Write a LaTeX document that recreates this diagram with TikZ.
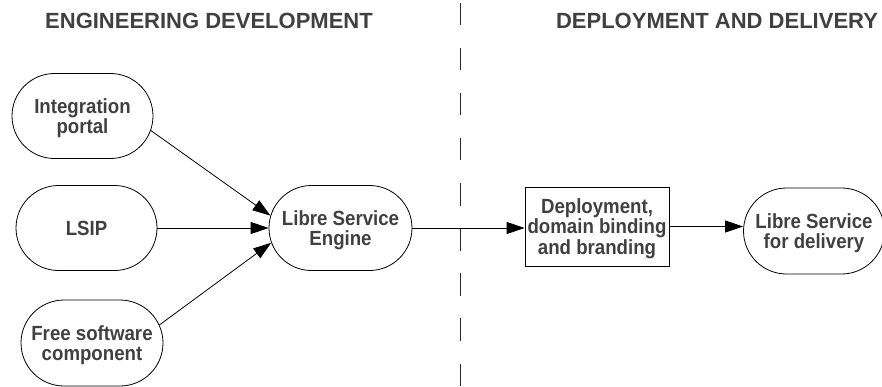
\documentclass[tikz,border=0pt]{standalone}
\usepackage{fontspec}
\setmainfont{Liberation Sans}
\newfontfamily\nodefont{Liberation Sans}[FakeStretch=0.91]
\usepackage{tikz}
\usetikzlibrary{positioning}
\usetikzlibrary{arrows.meta}
\usetikzlibrary{shapes.misc}
\definecolor{inkgray}{RGB}{64,64,64}
\tikzset{
  every node/.style={font=\nodefont\bfseries\fontsize{20.5}{20.7}\selectfont, text=inkgray, align=center, text depth=0pt},
  pill/.style={draw=black, line width=0.8pt, rounded rectangle, minimum width=141pt, minimum height=85pt, inner sep=0pt},
  plainbox/.style={draw=black, line width=0.8pt, rectangle, minimum width=144pt, minimum height=79pt, inner sep=0pt},
  heading/.style={font=\bfseries\fontsize{22}{26}\selectfont},
  flow/.style={-{Triangle[length=18pt,width=12pt]}, line width=0.8pt},
  divider/.style={draw=black!85, line width=0.9pt, dash pattern=on 22.4pt off 22.7pt},
}

\begin{document}
\begin{tikzpicture}[x=1pt,y=-1pt]
	%% page size of the drawing
	\useasboundingbox (0,0) rectangle (882,386);

	% column headings
	\node[heading] (engtitle) at (209,20.5) {ENGINEERING DEVELOPMENT};
	\node[heading] (deltitle) at (717,20.5) {DEPLOYMENT AND DELIVERY};

	% separator between the two columns
	\coordinate (divtop) at (460,2.7);
	\coordinate (divbot) at (460,386);
	\draw[divider] (divtop) -- (divbot);

	% sources
	\node[pill] (intport) at (82.5,116) {Integration\\portal};
	\node[pill] (lsip) at (86.5,228) {LSIP};
	\node[pill, minimum width=142pt, minimum height=86pt] (freesw) at (92,343) {Free software\\component};

	% engine, deployment, delivery
	\node[pill, minimum width=143pt] (engine) at (340.5,228) {Libre Service\\Engine};
	\node[plainbox] (deploy) at (597,226.5) {Deployment,\\domain binding\\and branding};
	\node[pill, minimum height=86pt] (delivery) at (814,231) {Libre Service\\for delivery};

	\draw[flow] (intport.-12) -- (engine.170);
	\draw[flow] (lsip.east) -- (lsip.east -| engine.west);
	\draw[flow] (freesw.15) -- (engine.192);
	\draw[flow] (engine.east) -- (engine.east -| deploy.west);
	\draw[flow] (deploy.east) -- (deploy.east -| delivery.west);
\end{tikzpicture}
\end{document}
